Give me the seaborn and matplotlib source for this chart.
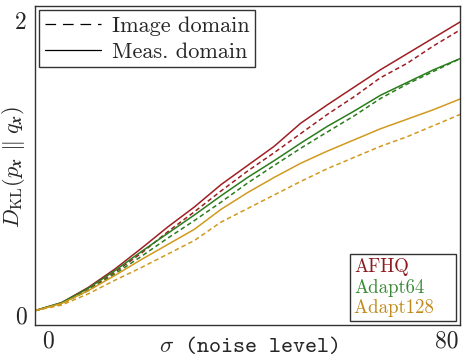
import matplotlib
matplotlib.use('Agg')
import matplotlib.pyplot as plt
import matplotlib.transforms as mtransforms
from matplotlib.lines import Line2D
import pandas as pd
import seaborn as sns

# noise level grid
sigma = [0, 5, 10, 15, 20, 25, 30, 35, 40, 45, 50, 55, 60, 65, 70, 75, 80]

# KL divergence, measurement domain (solid) and image domain (dashed)
afhq_meas = [0.09, 0.14, 0.235, 0.35, 0.48, 0.615, 0.74, 0.88, 1.0, 1.12, 1.265, 1.38, 1.49, 1.60, 1.70, 1.80, 1.90]
afhq_img = [0.09, 0.135, 0.22, 0.33, 0.45, 0.585, 0.71, 0.84, 0.965, 1.08, 1.20, 1.32, 1.43, 1.55, 1.64, 1.75, 1.85]
adapt64_meas = [0.09, 0.14, 0.23, 0.34, 0.46, 0.575, 0.69, 0.81, 0.925, 1.03, 1.14, 1.245, 1.34, 1.44, 1.52, 1.60, 1.67]
adapt64_img = [0.09, 0.135, 0.215, 0.32, 0.43, 0.545, 0.655, 0.77, 0.89, 1.0, 1.108, 1.21, 1.31, 1.42, 1.51, 1.59, 1.67]
adapt128_meas = [0.09, 0.135, 0.215, 0.31, 0.41, 0.505, 0.60, 0.725, 0.83, 0.925, 1.014, 1.09, 1.16, 1.23, 1.29, 1.35, 1.417]
adapt128_img = [0.09, 0.125, 0.195, 0.28, 0.36, 0.445, 0.53, 0.645, 0.73, 0.815, 0.90, 0.98, 1.05, 1.12, 1.18, 1.25, 1.32]

datasets = ['AFHQ', 'Adapt64', 'Adapt128']
colors = {'AFHQ': '#9e1f24', 'Adapt64': '#2a7d1c', 'Adapt128': '#d19a1e'}
text_colors = {'AFHQ': '#8b1a1f', 'Adapt64': '#3a8a35', 'Adapt128': '#c08a1a'}

series = {
    ('AFHQ', 'Meas. domain'): afhq_meas,
    ('AFHQ', 'Image domain'): afhq_img,
    ('Adapt64', 'Meas. domain'): adapt64_meas,
    ('Adapt64', 'Image domain'): adapt64_img,
    ('Adapt128', 'Meas. domain'): adapt128_meas,
    ('Adapt128', 'Image domain'): adapt128_img,
}
rows = []
for (ds, dom), vals in series.items():
    for s, v in zip(sigma, vals):
        rows.append({'sigma': s, 'kl': v, 'dataset': ds, 'domain': dom})
df = pd.DataFrame(rows)

sns.set_style('white')
plt.rcParams['font.family'] = ['cmr10', 'DejaVu Serif']
plt.rcParams['mathtext.fontset'] = 'cm'
plt.rcParams['axes.formatter.use_mathtext'] = True

fig = plt.figure(figsize=(4.62, 3.56), dpi=100)
ax = fig.add_axes([0.0758, 0.0871, 0.92, 0.896])

sns.lineplot(data=df, x='sigma', y='kl', hue='dataset', style='domain',
             hue_order=datasets, palette=colors,
             style_order=['Image domain', 'Meas. domain'],
             dashes={'Image domain': (3, 2), 'Meas. domain': ''},
             linewidth=1.1, legend=False, ax=ax)

ax.set_xlim(0, 80)
ax.set_ylim(0, 2)
ax.set_xticks([0, 80])
ax.set_xticklabels(['0', '80'])
ax.set_yticks([0, 2])
ax.set_yticklabels(['0', '2'])
ax.tick_params(length=0, labelsize=17)
ax.tick_params(axis='x', pad=4)
ax.tick_params(axis='y', pad=6)

# push end tick labels inward
for lab, dx in zip(ax.get_xticklabels(), [13, -13]):
    lab.set_transform(lab.get_transform() + mtransforms.ScaledTranslation(dx / 100, 0, fig.dpi_scale_trans))
for lab, dy in zip(ax.get_yticklabels(), [10, -14]):
    lab.set_transform(lab.get_transform() + mtransforms.ScaledTranslation(0, dy / 100, fig.dpi_scale_trans))

ax.set_xlabel(r'$\sigma$ (noise level)', fontsize=16.5, fontfamily='cmtt10')
ax.set_ylabel(r'$D_{\mathrm{KL}}(p_{\mathbfit{x}}\ \|\ q_{\mathbfit{x}})$', fontsize=16)
ax.xaxis.set_label_coords(0.503, -0.03)
ax.yaxis.set_label_coords(-0.019, 0.497)

for sp in ax.spines.values():
    sp.set_color('#333333')
    sp.set_linewidth(1.0)

# linestyle legend
handles = [Line2D([], [], color='black', lw=0.9, dashes=(8.5, 5.5)),
           Line2D([], [], color='black', lw=0.9)]
leg1 = ax.legend(handles, ['Image domain', 'Meas. domain'], loc='upper left',
                 fontsize=16, frameon=True, fancybox=False, handlelength=2.5,
                 borderpad=0.25, labelspacing=0.3, handletextpad=0.5,
                 borderaxespad=0.2)
leg1.get_frame().set_edgecolor('black')
leg1.get_frame().set_linewidth(1.0)
ax.add_artist(leg1)

# dataset legend: coloured text only, left aligned with extra room on the right
empty = [Line2D([], [], alpha=0) for _ in datasets]
labels2 = [d + '   ' if d == 'Adapt128' else d for d in datasets]
leg2 = ax.legend(empty, labels2, loc='lower right', fontsize=13.5, frameon=True,
                 fancybox=False, handlelength=0, handletextpad=0,
                 borderpad=0.2, labelspacing=0.15, borderaxespad=0.2)
leg2.get_frame().set_edgecolor('black')
leg2.get_frame().set_linewidth(1.0)
for txt, ds in zip(leg2.get_texts(), datasets):
    txt.set_color(text_colors[ds])

fig.savefig('out.png', dpi=100)
